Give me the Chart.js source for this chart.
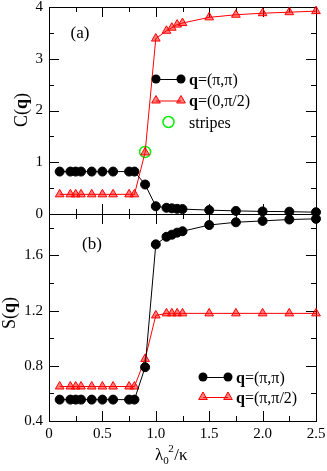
<!DOCTYPE html>
<html>
<head>
<meta charset="utf-8">
<script src="https://cdn.jsdelivr.net/npm/chart.js@4.4.0/dist/chart.umd.min.js"></script>
<style>
html, body { margin: 0; padding: 0; background: #fff; }
#wrap { position: relative; width: 327px; height: 471px; }
canvas { position: absolute; left: 0; }
#chartA { top: 0; }
#chartB { top: 200px; }
</style>
</head>
<body>
<div id="wrap">
  <canvas id="chartA" width="327" height="240"></canvas>
  <canvas id="chartB" width="327" height="271"></canvas>
</div>
<script>
// lambda_0^2 / kappa values
const lambdaSq = [0.1, 0.2, 0.25, 0.3, 0.4, 0.5, 0.6, 0.75, 0.8, 0.9, 1.0, 1.1, 1.15, 1.2, 1.25, 1.5, 1.75, 2.0, 2.25, 2.5];

// panel (a): C(q)
const cPiPi   = [0.82, 0.82, 0.82, 0.82, 0.82, 0.82, 0.82, 0.82, 0.82, 0.57, 0.15, 0.12, 0.11, 0.10, 0.095, 0.075, 0.06, 0.05, 0.045, 0.035];
const cZeroPi2 = [0.38, 0.38, 0.38, 0.38, 0.38, 0.38, 0.38, 0.38, 0.38, 1.19, 3.39, 3.54, 3.60, 3.66, 3.69, 3.80, 3.85, 3.88, 3.90, 3.92];
const stripesX = [0.9];
const stripesY = [1.2];

// panel (b): S(q)
const sPiPi  = [0.555, 0.555, 0.555, 0.555, 0.555, 0.555, 0.555, 0.555, 0.555, 0.79, 1.68, 1.735, 1.75, 1.765, 1.775, 1.82, 1.84, 1.85, 1.86, 1.865];
const sPiPi2 = [0.65, 0.65, 0.65, 0.65, 0.65, 0.65, 0.65, 0.65, 0.65, 0.85, 1.165, 1.18, 1.18, 1.18, 1.18, 1.18, 1.18, 1.18, 1.18, 1.18];

// tick labels
const xTicks = [0, 0.5, 1, 1.5, 2, 2.5];
const xMinor = [0.25, 0.75, 1.25, 1.75, 2.25];
const yTicksA = [0, 1, 2, 3, 4];
const yMinorA = [0.5, 1.5, 2.5, 3.5];
const yTicksB = [0.4, 0.8, 1.2, 1.6];
const yMinorB = [0.6, 1.0, 1.4, 1.8];

const SERIF = '"Liberation Serif", "Times New Roman", serif';
const RED = '#ff0000';
const RED_FILL = 'rgba(255,0,0,0.5)';

const pts = (xs, ys) => xs.map((x, i) => ({ x: x, y: ys[i] }));

// draw a run of text pieces [text, bold]
function drawPieces(ctx, pieces, x, y, size) {
    ctx.textBaseline = 'alphabetic';
    ctx.textAlign = 'left';
    for (const [t, bold] of pieces) {
        ctx.font = (bold ? 'bold ' : '') + size + 'px ' + SERIF;
        ctx.fillText(t, x, y);
        x += ctx.measureText(t).width;
    }
    return x;
}
function piecesWidth(ctx, pieces, size) {
    let w = 0;
    for (const [t, bold] of pieces) {
        ctx.font = (bold ? 'bold ' : '') + size + 'px ' + SERIF;
        w += ctx.measureText(t).width;
    }
    return w;
}

function marker(ctx, type, x, y) {
    ctx.save();
    ctx.lineWidth = 1;
    if (type === 'circle') {
        ctx.fillStyle = '#000';
        ctx.beginPath();
        ctx.arc(x, y, 4.5, 0, Math.PI * 2);
        ctx.fill();
    } else if (type === 'triangle') {
        const r = 5;
        ctx.fillStyle = RED_FILL;
        ctx.strokeStyle = RED;
        ctx.beginPath();
        ctx.moveTo(x, y - r);
        ctx.lineTo(x + 0.866 * r, y + 0.5 * r);
        ctx.lineTo(x - 0.866 * r, y + 0.5 * r);
        ctx.closePath();
        ctx.fill();
        ctx.stroke();
    } else if (type === 'ring') {
        ctx.strokeStyle = '#00ee00';
        ctx.lineWidth = 1.5;
        ctx.beginPath();
        ctx.arc(x, y, 5.5, 0, Math.PI * 2);
        ctx.stroke();
    }
    ctx.restore();
}

// frame with inward ticks on all four sides
const framePlugin = {
    id: 'frame',
    beforeDatasetsDraw(chart, args, opts) {
        const { ctx, chartArea: a, scales } = chart;
        ctx.save();
        ctx.strokeStyle = '#000';
        ctx.lineWidth = 1;
        ctx.strokeRect(a.left + 0.5, a.top + 0.5, a.right - a.left, a.bottom - a.top);
        const tick = (x1, y1, x2, y2) => { ctx.beginPath(); ctx.moveTo(x1, y1); ctx.lineTo(x2, y2); ctx.stroke(); };
        const xt = (vals, len) => vals.forEach(v => {
            const px = Math.round(scales.x.getPixelForValue(v)) + 0.5;
            tick(px, a.bottom, px, a.bottom - len);
            tick(px, a.top, px, a.top + len);
        });
        const yt = (vals, len) => vals.forEach(v => {
            const py = Math.round(scales.y.getPixelForValue(v)) + 0.5;
            tick(a.left, py, a.left + len, py);
            tick(a.right, py, a.right - len, py);
        });
        xt(xTicks, 10); xt(xMinor, 5);
        yt(opts.yMajor, 10); yt(opts.yMinor, 5);
        ctx.restore();
    },
    afterDraw(chart, args, opts) {
        const ctx = chart.ctx;
        ctx.save();
        ctx.fillStyle = '#000';
        // panel tag
        ctx.font = '17px ' + SERIF;
        ctx.textAlign = 'center';
        ctx.textBaseline = 'middle';
        ctx.fillText(opts.tag.text, opts.tag.x, opts.tag.y);
        // y title, rotated
        ctx.save();
        ctx.translate(opts.ytitle.x, opts.ytitle.y);
        ctx.rotate(-Math.PI / 2);
        const w = piecesWidth(ctx, opts.ytitle.pieces, 18);
        drawPieces(ctx, opts.ytitle.pieces, -w / 2, 6, 18);
        ctx.restore();
        // legend
        const lg = opts.legend;
        lg.entries.forEach((e, i) => {
            const y = lg.y + i * lg.gap;
            if (e.line) {
                ctx.strokeStyle = e.line;
                ctx.lineWidth = 1;
                ctx.beginPath();
                ctx.moveTo(lg.x, y + 0.5);
                ctx.lineTo(lg.x + 25, y + 0.5);
                ctx.stroke();
                marker(ctx, e.marker, lg.x, y);
                marker(ctx, e.marker, lg.x + 25, y);
            } else {
                marker(ctx, e.marker, lg.x + 12.5, y);
            }
            ctx.fillStyle = '#000';
            drawPieces(ctx, e.pieces, lg.x + 33, y + 5.5, 16);
        });
        // x title
        if (opts.xtitle) {
            const bx = 155, by = 460 - 200;
            ctx.textAlign = 'left';
            ctx.textBaseline = 'alphabetic';
            ctx.font = '17px ' + SERIF;
            ctx.fillText('\u03bb', bx, by);
            let x = bx + ctx.measureText('\u03bb').width;
            ctx.font = '11px ' + SERIF;
            ctx.fillText('0', x, by + 4);
            ctx.fillText('2', x + 5, by - 8);
            x += 11;
            ctx.font = '17px ' + SERIF;
            ctx.fillText('/\u03ba', x, by);
        }
        ctx.restore();
    }
};

Chart.defaults.font.family = SERIF;
Chart.defaults.color = '#000';

function baseScales(yMin, yMax, yTicks, showX) {
    return {
        x: {
            type: 'linear', min: 0, max: 2.5,
            display: showX,
            afterBuildTicks: s => { s.ticks = xTicks.map(v => ({ value: v })); },
            afterFit: s => { s.height = showX ? 50 : 0; s.paddingLeft = 0; s.paddingRight = 0; },
            grid: { display: false, drawTicks: false },
            border: { display: false },
            ticks: { font: { size: 15 }, padding: 4, maxRotation: 0, autoSkip: false }
        },
        y: {
            type: 'linear', min: yMin, max: yMax,
            afterBuildTicks: s => { s.ticks = yTicks.map(v => ({ value: v })); },
            afterFit: s => { s.width = 49; s.paddingTop = 0; s.paddingBottom = 0; },
            grid: { display: false, drawTicks: false },
            border: { display: false },
            ticks: { font: { size: 15 }, padding: 6, autoSkip: false }
        }
    };
}

const common = {
    responsive: false,
    animation: false,
    events: [],
    plugins: { legend: { display: false }, tooltip: { enabled: false } }
};

new Chart(document.getElementById('chartA'), {
    type: 'line',
    data: {
        datasets: [
            { data: pts(lambdaSq, cPiPi), borderColor: '#000', borderWidth: 1, pointStyle: 'circle',
              pointRadius: 4.5, pointBackgroundColor: '#000', pointBorderColor: '#000', clip: false },
            { data: pts(lambdaSq, cZeroPi2), borderColor: RED, borderWidth: 1, pointStyle: 'triangle',
              pointRadius: 5, pointBackgroundColor: RED_FILL, pointBorderColor: RED, pointBorderWidth: 1, clip: false },
            { data: pts(stripesX, stripesY), showLine: false, pointStyle: 'circle', pointRadius: 5.5,
              pointBackgroundColor: 'rgba(0,0,0,0)', pointBorderColor: '#00ee00', pointBorderWidth: 1.5, clip: false }
        ]
    },
    options: Object.assign({}, common, {
        layout: { padding: { top: 6, right: 11, left: 0, bottom: 26 } },
        scales: baseScales(0, 4, yTicksA, false),
        plugins: Object.assign({}, common.plugins, {
            frame: {
                yMajor: yTicksA, yMinor: yMinorA,
                tag: { text: '(a)', x: 80, y: 34 },
                ytitle: { x: 21, y: 110, pieces: [['C(', false], ['q', true], [')', false]] },
                legend: {
                    x: 156, y: 79, gap: 21.5,
                    entries: [
                        { line: '#000', marker: 'circle', pieces: [['q', true], ['=(\u03c0,\u03c0)', false]] },
                        { line: RED, marker: 'triangle', pieces: [['q', true], ['=(0,\u03c0/2)', false]] },
                        { marker: 'ring', pieces: [['stripes', false]] }
                    ]
                }
            }
        })
    }),
    plugins: [framePlugin]
});

new Chart(document.getElementById('chartB'), {
    type: 'line',
    data: {
        datasets: [
            { data: pts(lambdaSq, sPiPi), borderColor: '#000', borderWidth: 1, pointStyle: 'circle',
              pointRadius: 4.5, pointBackgroundColor: '#000', pointBorderColor: '#000', clip: false },
            { data: pts(lambdaSq, sPiPi2), borderColor: RED, borderWidth: 1, pointStyle: 'triangle',
              pointRadius: 5, pointBackgroundColor: RED_FILL, pointBorderColor: RED, pointBorderWidth: 1, clip: false }
        ]
    },
    options: Object.assign({}, common, {
        layout: { padding: { top: 14, right: 11, left: 0, bottom: 0 } },
        scales: baseScales(0.4, 1.9, yTicksB, true),
        plugins: Object.assign({}, common.plugins, {
            frame: {
                yMajor: yTicksB, yMinor: yMinorB,
                tag: { text: '(b)', x: 92, y: 45 },
                ytitle: { x: 9, y: 113, pieces: [['S(', false], ['q', true], [')', false]] },
                xtitle: true,
                legend: {
                    x: 203, y: 177, gap: 20,
                    entries: [
                        { line: '#000', marker: 'circle', pieces: [['q', true], ['=(\u03c0,\u03c0)', false]] },
                        { line: RED, marker: 'triangle', pieces: [['q', true], ['=(\u03c0,\u03c0/2)', false]] }
                    ]
                }
            }
        })
    }),
    plugins: [framePlugin]
});
</script>
</body>
</html>
